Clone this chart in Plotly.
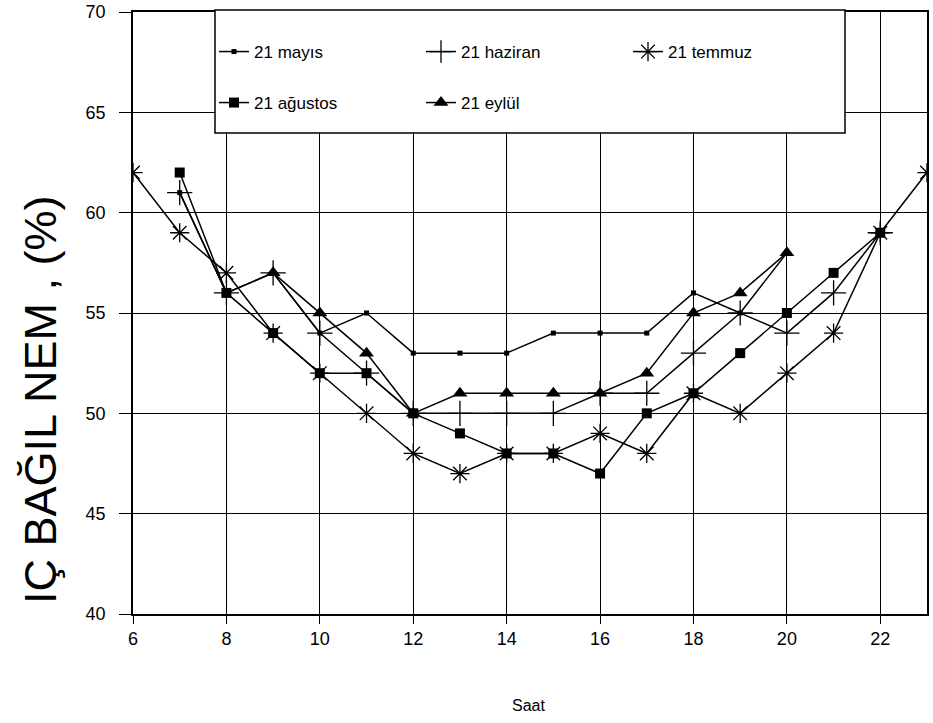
import plotly.graph_objects as go

# ---- data ----
mayis_x = [7, 8, 9, 10, 11, 12, 13, 14, 15, 16, 17, 18, 19, 20]
mayis_y = [61, 56, 57, 54, 55, 53, 53, 53, 54, 54, 54, 56, 55, 58]

haziran_x = [7, 8, 9, 10, 11, 12, 13, 14, 15, 16, 17, 18, 19, 20, 21, 22]
haziran_y = [61, 56, 57, 54, 52, 50, 50, 50, 50, 51, 51, 53, 55, 54, 56, 59]

temmuz_x = [6, 7, 8, 9, 10, 11, 12, 13, 14, 15, 16, 17, 18, 19, 20, 21, 22, 23]
temmuz_y = [62, 59, 57, 54, 52, 50, 48, 47, 48, 48, 49, 48, 51, 50, 52, 54, 59, 62]

agustos_x = [7, 8, 9, 10, 11, 12, 13, 14, 15, 16, 17, 18, 19, 20, 21, 22]
agustos_y = [62, 56, 54, 52, 52, 50, 49, 48, 48, 47, 50, 51, 53, 55, 57, 59]

eylul_x = [9, 10, 11, 12, 13, 14, 15, 16, 17, 18, 19, 20]
eylul_y = [57, 55, 53, 50, 51, 51, 51, 51, 52, 55, 56, 58]

x_ticks = [6, 8, 10, 12, 14, 16, 18, 20, 22]
y_ticks = [40, 45, 50, 55, 60, 65, 70]

FONT = "Liberation Sans, Arial, sans-serif"
LINE = dict(color="black", width=1.5)

fig = go.Figure()
fig.add_trace(go.Scatter(x=mayis_x, y=mayis_y, name="21 mayıs", mode="lines+markers",
                         line=LINE, marker=dict(symbol="square", size=5, color="black"),
                         legend="legend"))
fig.add_trace(go.Scatter(x=haziran_x, y=haziran_y, name="21 haziran", mode="lines+markers",
                         line=LINE, marker=dict(symbol="cross-thin", size=18, color="black",
                                                line=dict(color="black", width=1.3)),
                         legend="legend"))
fig.add_trace(go.Scatter(x=temmuz_x, y=temmuz_y, name="21 temmuz", mode="lines+markers",
                         line=LINE, marker=dict(symbol="asterisk", size=16, color="black",
                                                line=dict(color="black", width=1.3)),
                         legend="legend"))
fig.add_trace(go.Scatter(x=agustos_x, y=agustos_y, name="21 ağustos", mode="lines+markers",
                         line=LINE, marker=dict(symbol="square", size=10, color="black"),
                         legend="legend2"))
fig.add_trace(go.Scatter(x=eylul_x, y=eylul_y, name="21 eylül", mode="lines+markers",
                         line=LINE, marker=dict(symbol="triangle-up", size=13, color="black"),
                         legend="legend2"))

W, H = 933, 723
L, R, T, B = 133, 6, 12, 109
pw, ph = W - L - R, H - T - B

def px_x(px):
    return (px - L) / pw

def px_y(py):
    return (H - B - py) / ph

leg_common = dict(orientation="h", xanchor="left", yanchor="middle",
                  bgcolor="rgba(0,0,0,0)", borderwidth=0,
                  font=dict(family=FONT, size=17, color="black"),
                  entrywidth=162, itemwidth=30)

fig.update_layout(
    width=W, height=H,
    margin=dict(l=L, r=R, t=T, b=B, autoexpand=False),
    paper_bgcolor="white", plot_bgcolor="white",
    font=dict(family=FONT, color="black"),
    showlegend=True,
    legend=dict(x=px_x(214), y=px_y(52), **leg_common),
    legend2=dict(x=px_x(214), y=px_y(103), **leg_common),
    xaxis=dict(range=[6, 23], tickvals=x_ticks, ticktext=[str(v) for v in x_ticks],
               showgrid=True, gridcolor="black", gridwidth=1,
               showline=True, linecolor="black", linewidth=1.5, mirror=True,
               ticks="outside", ticklen=8, tickcolor="black",
               tickfont=dict(family=FONT, size=18, color="black"),
               zeroline=False, fixedrange=True, automargin=False),
    yaxis=dict(range=[40, 70], tickvals=y_ticks, ticktext=[str(v) for v in y_ticks],
               showgrid=True, gridcolor="black", gridwidth=1,
               showline=True, linecolor="black", linewidth=1.5, mirror=True,
               ticks="outside", ticklen=12, tickcolor="black",
               ticklabelstandoff=10,
               tickfont=dict(family=FONT, size=18, color="black"),
               zeroline=False, fixedrange=True, automargin=False),
    shapes=[dict(type="rect", xref="paper", yref="paper",
                 x0=px_x(215), x1=px_x(845), y0=px_y(133), y1=px_y(10),
                 line=dict(color="black", width=1.5), fillcolor="white", layer="above")],
    annotations=[
        dict(text="IÇ BAĞIL NEM , (%)", xref="paper", yref="paper",
             x=px_x(40), y=px_y(400), xanchor="center", yanchor="middle",
             textangle=-90, showarrow=False,
             font=dict(family=FONT, size=45, color="black")),
        dict(text="Saat", xref="paper", yref="paper",
             x=px_x(528), y=px_y(705), xanchor="center", yanchor="middle",
             showarrow=False, font=dict(family=FONT, size=16, color="black")),
    ],
)

fig.write_html("out.html", config={"displayModeBar": False},
               post_script="document.body.style.margin='0';")
